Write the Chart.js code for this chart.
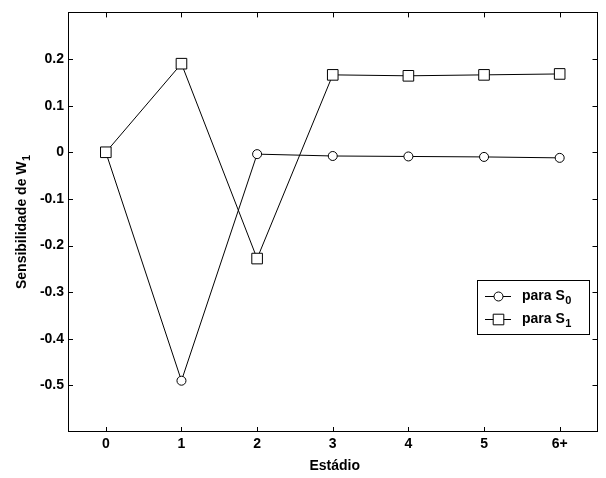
<!DOCTYPE html>
<html>
<head>
<meta charset="utf-8">
<script src="https://cdn.jsdelivr.net/npm/chart.js@4"></script>
<style>
  html, body { margin: 0; padding: 0; background: #fff; }
  #wrap { width: 606px; height: 478px; }
</style>
</head>
<body>
<div id="wrap"><canvas id="c" width="606" height="478"></canvas></div>
<script>
// Stages along the x axis
const stages = ['0', '1', '2', '3', '4', '5', '6+'];
// Sensitivity of W1 with respect to S0 and S1
const sensS0 = [0, -0.49, -0.004, -0.008, -0.009, -0.010, -0.012];
const sensS1 = [0, 0.19, -0.228, 0.166, 0.164, 0.166, 0.168];
// Labelled y ticks
const yTickValues = [-0.5, -0.4, -0.3, -0.2, -0.1, 0, 0.1, 0.2];
// Legend entries: main text and subscript
const legendNames = [['para S', '0'], ['para S', '1']];
const yTitle = ['Sensibilidade de W', '1'];
const xTitle = 'Estádio';

const FAMILY = '"Liberation Sans", Arial, Helvetica, sans-serif';
const FONT = 'bold 14px ' + FAMILY;
const SUB_FONT = 'bold 11px ' + FAMILY;

Chart.defaults.color = '#000';
Chart.defaults.font.family = FAMILY;

// Frame, inward ticks, axis titles and legend
const decorations = {
  id: 'decorations',
  afterDraw(chart) {
    const ctx = chart.ctx;
    const a = chart.chartArea;
    const xs = chart.scales.x, ys = chart.scales.y;
    ctx.save();
    ctx.strokeStyle = '#000';
    ctx.lineWidth = 1;
    ctx.strokeRect(Math.round(a.left) + 0.5, Math.round(a.top) + 0.5,
                   Math.round(a.right - a.left) - 1, Math.round(a.bottom - a.top) - 1);
    const T = 5;
    ctx.beginPath();
    stages.forEach((s, i) => {
      const px = Math.round(xs.getPixelForValue(i)) + 0.5;
      ctx.moveTo(px, a.bottom); ctx.lineTo(px, a.bottom - T);
      ctx.moveTo(px, a.top); ctx.lineTo(px, a.top + T);
    });
    yTickValues.forEach(v => {
      const py = Math.round(ys.getPixelForValue(v)) + 0.5;
      ctx.moveTo(a.left, py); ctx.lineTo(a.left + T, py);
      ctx.moveTo(a.right, py); ctx.lineTo(a.right - T, py);
    });
    ctx.stroke();

    ctx.fillStyle = '#000';
    // x title
    ctx.font = FONT;
    ctx.textAlign = 'center';
    ctx.textBaseline = 'middle';
    ctx.fillText(xTitle, (a.left + a.right) / 2 + 2, 466);

    // y title with subscript
    ctx.save();
    ctx.translate(22, (a.top + a.bottom) / 2);
    ctx.rotate(-Math.PI / 2);
    ctx.textAlign = 'left';
    ctx.font = FONT;
    const w1 = ctx.measureText(yTitle[0]).width;
    ctx.font = SUB_FONT;
    const w2 = ctx.measureText(yTitle[1]).width;
    const x0 = -(w1 + w2) / 2;
    ctx.font = FONT;
    ctx.fillText(yTitle[0], x0, 0);
    ctx.font = SUB_FONT;
    ctx.fillText(yTitle[1], x0 + w1 + 0.5, 5);
    ctx.restore();

    // legend box
    const bx = 477, by = 280, bw = 112, bh = 54;
    ctx.fillStyle = '#fff';
    ctx.fillRect(bx, by, bw, bh);
    ctx.strokeRect(bx + 0.5, by + 0.5, bw, bh);
    const rows = [296, 319];
    chart.data.datasets.forEach((ds, i) => {
      const y = rows[i] + 0.5;
      ctx.beginPath();
      ctx.moveTo(485, y); ctx.lineTo(511, y);
      ctx.strokeStyle = ds.borderColor;
      ctx.stroke();
      ctx.fillStyle = '#fff';
      ctx.beginPath();
      if (ds.pointStyle === 'circle') {
        ctx.arc(498.5, y, ds.pointRadius, 0, Math.PI * 2);
      } else {
        const h = ds.pointRadius * Math.SQRT1_2;
        ctx.rect(498.5 - h, y - h, 2 * h, 2 * h);
      }
      ctx.fill();
      ctx.stroke();
      ctx.fillStyle = '#000';
      ctx.textAlign = 'left';
      ctx.textBaseline = 'middle';
      ctx.font = FONT;
      ctx.fillText(legendNames[i][0], 522, rows[i]);
      const tw = ctx.measureText(legendNames[i][0]).width;
      ctx.font = SUB_FONT;
      ctx.fillText(legendNames[i][1], 522 + tw + 0.5, rows[i] + 5);
    });
    ctx.restore();
  }
};

new Chart(document.getElementById('c'), {
  type: 'line',
  data: {
    labels: stages,
    datasets: [
      {
        label: 'para S0',
        data: sensS0,
        borderColor: '#000',
        borderWidth: 1,
        pointStyle: 'circle',
        pointRadius: 4.5,
        pointBackgroundColor: '#fff',
        pointBorderColor: '#000',
        pointBorderWidth: 1,
        tension: 0,
        order: 1
      },
      {
        label: 'para S1',
        data: sensS1,
        borderColor: '#000',
        borderWidth: 1,
        pointStyle: 'rect',
        pointRadius: 7.5,
        pointBackgroundColor: '#fff',
        pointBorderColor: '#000',
        pointBorderWidth: 1,
        tension: 0,
        order: 0
      }
    ]
  },
  options: {
    responsive: false,
    animation: false,
    devicePixelRatio: 1,
    layout: { padding: { top: 10, right: 8, left: 0, bottom: 0 } },
    plugins: { legend: { display: false }, tooltip: { enabled: false } },
    scales: {
      x: {
        type: 'category',
        offset: true,
        grid: { display: false, drawTicks: false },
        border: { display: false },
        ticks: { font: { size: 14, weight: 'bold' }, padding: 4, maxRotation: 0 },
        afterFit(scale) { scale.height = 46; }
      },
      y: {
        type: 'linear',
        min: -0.6,
        max: 0.3,
        grid: { display: false, drawTicks: false },
        border: { display: false },
        afterBuildTicks(scale) { scale.ticks = yTickValues.map(v => ({ value: v })); },
        ticks: {
          font: { size: 14, weight: 'bold' },
          padding: 4,
          callback: v => (Math.abs(v) < 1e-9 ? '0' : v.toFixed(1))
        },
        afterFit(scale) { scale.width = 68; }
      }
    }
  },
  plugins: [decorations]
});
</script>
</body>
</html>
